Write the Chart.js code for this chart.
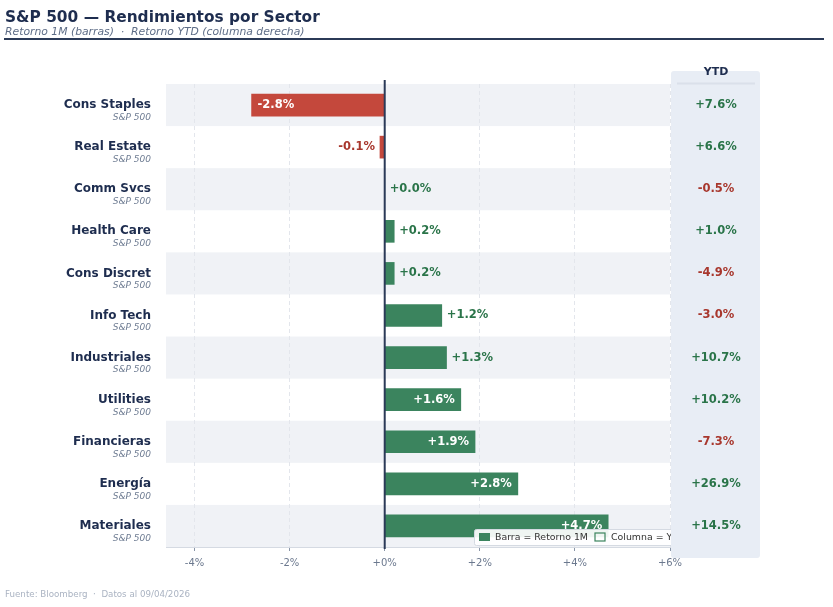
<!DOCTYPE html>
<html lang="es">
<head>
<meta charset="utf-8">
<script src="https://cdn.jsdelivr.net/npm/chart.js@4/dist/chart.umd.min.js"></script>
<style>
  html, body { margin: 0; padding: 0; background: #fff; }
  body { width: 833px; height: 607px; position: relative; overflow: hidden; font-family: "DejaVu Sans", sans-serif; }
  #title { position: absolute; left: 5px; top: 8px; font-size: 15.4px; font-weight: bold; color: #1e2d4f; white-space: nowrap; }
  #subtitle { position: absolute; left: 5px; top: 25px; font-size: 10.8px; font-style: italic; color: #5e6d87; white-space: nowrap; }
  #rule { position: absolute; left: 4px; top: 38px; width: 820px; height: 2px; background: #2b3a57; }
  #footer { position: absolute; left: 5px; top: 589px; font-size: 8.7px; color: #aab3c2; white-space: nowrap; }
  #wrap { position: absolute; left: 0; top: 0; width: 833px; height: 607px; }
</style>
</head>
<body>
<div id="wrap"><canvas id="chart"></canvas></div>
<div id="title">S&amp;P 500 — Rendimientos por Sector</div>
<div id="subtitle">Retorno 1M (barras) &nbsp;·&nbsp; Retorno YTD (columna derecha)</div>
<div id="rule"></div>
<div id="footer">Fuente: Bloomberg &nbsp;·&nbsp; Datos al 09/04/2026</div>
<script>
// sector rows, top to bottom
const SECTORS = ['Cons Staples', 'Real Estate', 'Comm Svcs', 'Health Care', 'Cons Discret',
  'Info Tech', 'Industriales', 'Utilities', 'Financieras', 'Energía', 'Materiales'];
const SUBLABEL = 'S&P 500';
const RET_1M = [-2.8, -0.1, 0.0, 0.2, 0.2, 1.2, 1.3, 1.6, 1.9, 2.8, 4.7];
const RET_YTD = [7.6, 6.6, -0.5, 1.0, -4.9, -3.0, 10.7, 10.2, -7.3, 26.9, 14.5];
const X_TICKS = [-4, -2, 0, 2, 4, 6];

const GREEN = '#3b845e';
const RED = '#c4483c';
const TXT_GREEN = '#2a7449';
const TXT_RED = '#a8372d';
const NAVY = '#1e2d4f';
const FONT = '"DejaVu Sans", sans-serif';

const fmt = (v) => (v >= 0 ? '+' : '') + v.toFixed(1) + '%';

// alternating row bands behind the grid
const bandsPlugin = {
  id: 'bands',
  beforeDraw(chart) {
    const { ctx, chartArea: a, scales: { y } } = chart;
    const step = y.getPixelForValue(1) - y.getPixelForValue(0);
    ctx.save();
    ctx.fillStyle = '#f0f2f6';
    SECTORS.forEach((_, i) => {
      if (i % 2) return;
      const c = y.getPixelForValue(i);
      ctx.fillRect(a.left, c - step / 2, a.right - a.left, step);
    });
    ctx.restore();
  },
};

// y labels, zero line, value labels, legend, YTD column
const overlayPlugin = {
  id: 'overlay',
  afterDatasetsDraw(chart) {
    const { ctx, chartArea: a, scales: { x, y } } = chart;
    ctx.save();

    // zero line
    const x0 = x.getPixelForValue(0);
    ctx.strokeStyle = '#2b3a57';
    ctx.lineWidth = 2;
    ctx.beginPath();
    ctx.moveTo(x0, a.top - 4);
    ctx.lineTo(x0, a.bottom + 2);
    ctx.stroke();

    // category labels
    SECTORS.forEach((name, i) => {
      const c = y.getPixelForValue(i);
      ctx.textAlign = 'right';
      ctx.textBaseline = 'middle';
      ctx.fillStyle = NAVY;
      ctx.font = 'bold 12px ' + FONT;
      ctx.fillText(name, 151, c);
      ctx.fillStyle = '#6f7d93';
      ctx.font = 'italic 9px ' + FONT;
      ctx.fillText(SUBLABEL, 151, c + 12.5);
    });

    // value labels
    ctx.font = 'bold 11.5px ' + FONT;
    ctx.textBaseline = 'middle';
    RET_1M.forEach((v, i) => {
      const c = y.getPixelForValue(i);
      const end = x.getPixelForValue(v);
      const inside = Math.abs(v) >= 1.5;
      if (inside) {
        ctx.fillStyle = '#ffffff';
        ctx.textAlign = v >= 0 ? 'right' : 'left';
        ctx.fillText(fmt(v), v >= 0 ? end - 6 : end + 6, c);
      } else {
        ctx.fillStyle = v >= 0 ? TXT_GREEN : TXT_RED;
        ctx.textAlign = v >= 0 ? 'left' : 'right';
        ctx.fillText(fmt(v), v >= 0 ? end + 5 : end - 5, c);
      }
    });
    ctx.restore();
  },
  afterDraw(chart) {
    const { ctx, scales: { y } } = chart;
    ctx.save();

    // legend box (partly hidden by the YTD column)
    const lx = 474, ly = 529, lw = 230, lh = 16;
    ctx.fillStyle = 'rgba(255,255,255,0.92)';
    ctx.strokeStyle = '#d5dae2';
    ctx.lineWidth = 1;
    ctx.beginPath();
    ctx.roundRect(lx + 0.5, ly + 0.5, lw, lh, 2);
    ctx.fill();
    ctx.stroke();
    ctx.fillStyle = GREEN;
    ctx.fillRect(479, 533, 11, 8);
    ctx.font = '9.4px ' + FONT;
    ctx.textAlign = 'left';
    ctx.textBaseline = 'middle';
    ctx.fillStyle = '#333333';
    ctx.fillText('Barra = Retorno 1M', 495, 537.5);
    ctx.strokeStyle = GREEN;
    ctx.lineWidth = 1.2;
    ctx.strokeRect(595, 533, 10, 8);
    ctx.fillText('Columna = YTD', 611, 537.5);

    // YTD column panel
    ctx.fillStyle = '#e8edf5';
    ctx.beginPath();
    ctx.roundRect(671, 71, 89, 487, 3);
    ctx.fill();
    ctx.strokeStyle = '#dae0ea';
    ctx.lineWidth = 2;
    ctx.beginPath();
    ctx.moveTo(677, 83.5);
    ctx.lineTo(755, 83.5);
    ctx.stroke();
    ctx.fillStyle = NAVY;
    ctx.font = 'bold 11px ' + FONT;
    ctx.textAlign = 'center';
    ctx.fillText('YTD', 716, 72);

    ctx.font = 'bold 11.5px ' + FONT;
    RET_YTD.forEach((v, i) => {
      ctx.fillStyle = v >= 0 ? TXT_GREEN : TXT_RED;
      ctx.fillText(fmt(v), 716, y.getPixelForValue(i));
    });
    ctx.restore();
  },
};

new Chart(document.getElementById('chart'), {
  type: 'bar',
  data: {
    labels: SECTORS,
    datasets: [{
      label: 'Retorno 1M',
      data: RET_1M,
      backgroundColor: RET_1M.map((v) => (v >= 0 ? GREEN : RED)),
      borderWidth: 0,
      barThickness: 22,
    }],
  },
  options: {
    indexAxis: 'y',
    responsive: true,
    maintainAspectRatio: false,
    animation: false,
    layout: { padding: { left: 158, right: 163, top: 84, bottom: 32 } },
    plugins: { legend: { display: false }, tooltip: { enabled: false } },
    scales: {
      x: {
        min: -4.6,
        max: 6,
        afterBuildTicks: (scale) => { scale.ticks = X_TICKS.map((value) => ({ value })); },
        ticks: {
          callback: (v) => (v >= 0 ? '+' : '') + v + '%',
          color: '#6b788e',
          font: { family: FONT, size: 10 },
          padding: 6,
          maxRotation: 0,
        },
        grid: {
          color: (c) => (c.tick && c.tick.value === 0 ? 'rgba(0,0,0,0)' : '#e3e6ec'),
          tickColor: '#8a96a8',
          tickLength: 4,
          drawTicks: true,
        },
        border: { display: true, color: '#d5dae2', width: 1, dash: [4, 3], dashOffset: 0 },
      },
      y: {
        offset: true,
        ticks: { display: false },
        grid: { display: false },
        border: { display: false },
      },
    },
  },
  plugins: [bandsPlugin, overlayPlugin],
});
</script>
</body>
</html>
